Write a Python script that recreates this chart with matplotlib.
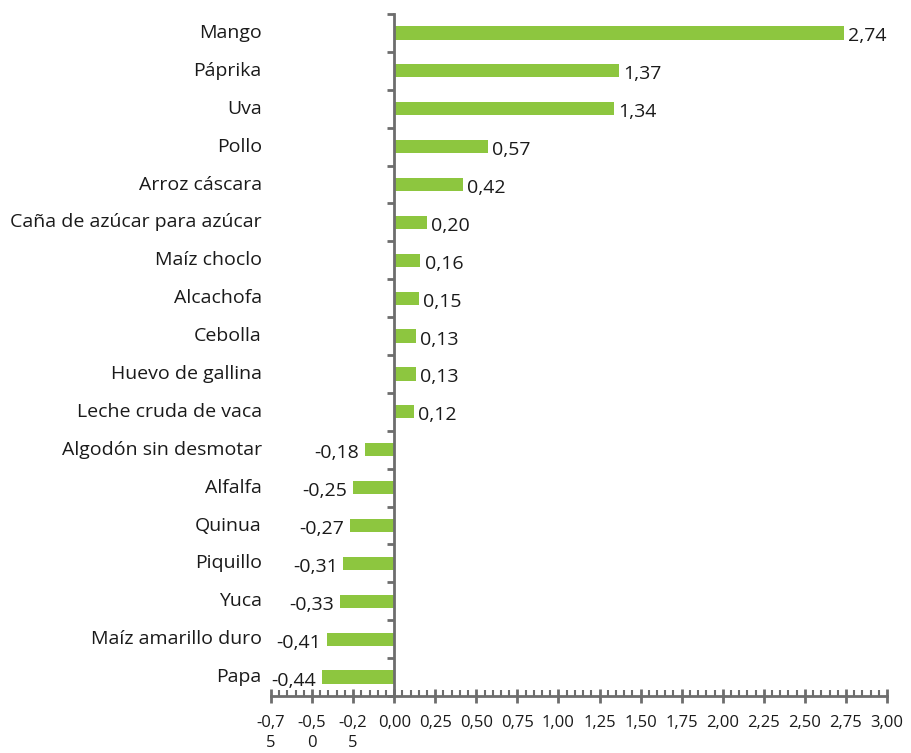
import matplotlib.pyplot as plt
from matplotlib.ticker import MultipleLocator, FixedLocator
from matplotlib.transforms import blended_transform_factory

productos = ["Mango", "Páprika", "Uva", "Pollo", "Arroz cáscara",
             "Caña de azúcar para azúcar", "Maíz choclo", "Alcachofa", "Cebolla",
             "Huevo de gallina", "Leche cruda de vaca", "Algodón sin desmotar",
             "Alfalfa", "Quinua", "Piquillo", "Yuca", "Maíz amarillo duro", "Papa"]
valores = [2.74, 1.37, 1.34, 0.57, 0.42, 0.20, 0.16, 0.15, 0.13, 0.13, 0.12,
           -0.18, -0.25, -0.27, -0.31, -0.33, -0.41, -0.44]
ticks_x = [-0.75, -0.50, -0.25, 0.00, 0.25, 0.50, 0.75, 1.00, 1.25, 1.50,
           1.75, 2.00, 2.25, 2.50, 2.75, 3.00]
etiquetas_x = ["-0,7\n5", "-0,5\n0", "-0,2\n5", "0,00", "0,25", "0,50", "0,75",
               "1,00", "1,25", "1,50", "1,75", "2,00", "2,25", "2,50", "2,75", "3,00"]

plt.rcParams['font.family'] = ['Open Sans', 'DejaVu Sans']
verde = "#8dc63f"
gris = "#6d6d6d"
texto = "#1a1a1a"

fig = plt.figure(figsize=(9.11, 7.53), dpi=100)
ax = fig.add_axes([271/911, 1 - 696/753, 616/911, 682/753])

pos = list(range(len(productos)))
ax.barh(pos, valores, height=0.35, color=verde)
ax.set_ylim(len(productos) - 0.5, -0.5)
ax.set_xlim(-0.75, 3.0)

# etiquetas de categoría a la izquierda del área
trans = blended_transform_factory(ax.transAxes, ax.transData)
for i, p in enumerate(productos):
    ax.text(-0.015, i, p, transform=trans, ha="right", va="center", fontsize=14, color=texto)

# etiquetas de valor
for i, v in enumerate(valores):
    txt = f"{v:.2f}".replace(".", ",")
    if v >= 0:
        ax.annotate(txt, (v, i), xytext=(3, -2.5), textcoords="offset points",
                    ha="left", va="center", fontsize=14, color=texto)
    else:
        ax.annotate(txt, (v, i), xytext=(-4, -2.5), textcoords="offset points",
                    ha="right", va="center", fontsize=14, color=texto)

for s in ["top", "right"]:
    ax.spines[s].set_visible(False)
ax.spines["left"].set_position(("data", 0))
ax.spines["left"].set_color(gris)
ax.spines["left"].set_linewidth(2)
ax.spines["bottom"].set_color(gris)
ax.spines["bottom"].set_linewidth(2)

ax.yaxis.set_major_locator(FixedLocator([i - 0.5 for i in range(len(productos) + 1)]))
ax.set_yticklabels([])
ax.tick_params(axis="y", direction="out", length=5, width=2, color=gris)

ax.set_xticks(ticks_x)
ax.set_xticklabels(etiquetas_x, fontsize=12, color=texto, va="top", linespacing=1.3)
ax.xaxis.set_minor_locator(MultipleLocator(0.05))
ax.tick_params(axis="x", which="major", direction="inout", length=10, width=2, color=gris, pad=9)
ax.tick_params(axis="x", which="minor", direction="in", length=4, width=1.5, color=gris)

fig.savefig("out.png", dpi=100)
